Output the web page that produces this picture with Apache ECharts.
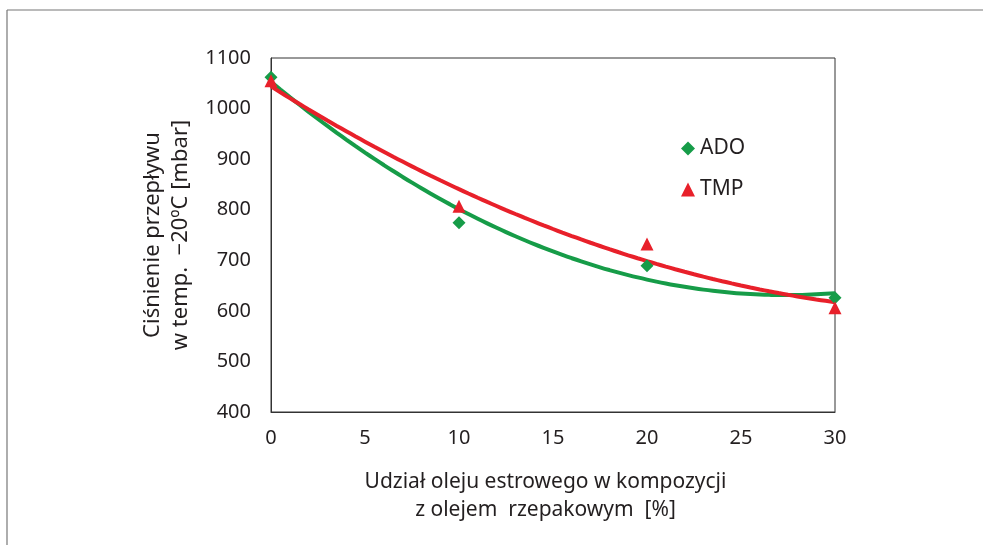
<!DOCTYPE html>
<html>
<head>
<meta charset="utf-8">
<script src="https://cdn.jsdelivr.net/npm/echarts@6/dist/echarts.min.js"></script>
<style>
  html, body { margin: 0; padding: 0; background: #fff; }
  #chart { width: 983px; height: 545px; }
</style>
</head>
<body>
<div id="chart"></div>
<script>
// Ester oil share in the blend with rapeseed oil [%]
const shares = [0, 10, 20, 30];
// Flow pressure at -20 °C [mbar]
const ado = [1062, 774, 689, 626];
const tmp = [1055, 807, 732, 606];
const yTicks = { min: 400, max: 1100, step: 100 };
const xTicks = { min: 0, max: 30, step: 5 };

const GREEN = '#169c48';
const RED = '#e8202a';
const INK = '#231f20';
const FONT = '"Noto Sans", "Open Sans", sans-serif';

// Second-order least-squares trend through the measured points
function quadFit(xs, ys) {
  let s = [0, 0, 0, 0, 0], t = [0, 0, 0];
  xs.forEach((x, i) => {
    for (let k = 0; k < 5; k++) s[k] += Math.pow(x, k);
    for (let k = 0; k < 3; k++) t[k] += ys[i] * Math.pow(x, k);
  });
  const M = [[s[0], s[1], s[2], t[0]], [s[1], s[2], s[3], t[1]], [s[2], s[3], s[4], t[2]]];
  for (let i = 0; i < 3; i++) {
    for (let j = i + 1; j < 3; j++) {
      const f = M[j][i] / M[i][i];
      for (let k = i; k < 4; k++) M[j][k] -= f * M[i][k];
    }
  }
  const c = [0, 0, 0];
  for (let i = 2; i >= 0; i--) {
    let v = M[i][3];
    for (let k = i + 1; k < 3; k++) v -= M[i][k] * c[k];
    c[i] = v / M[i][i];
  }
  return x => c[0] + c[1] * x + c[2] * x * x;
}
function trend(ys) {
  const f = quadFit(shares, ys);
  const pts = [];
  for (let x = shares[0]; x <= shares[shares.length - 1] + 1e-9; x += 0.5) pts.push([x, f(x)]);
  return pts;
}

const chart = echarts.init(document.getElementById('chart'), null, { renderer: 'canvas' });
chart.setOption({
  backgroundColor: '#fff',
  animation: false,
  textStyle: { fontFamily: FONT },
  grid: {
    left: 271, right: 148, top: 58, bottom: 133,
    show: true, borderColor: '#333', borderWidth: 1, backgroundColor: 'transparent'
  },
  legend: {
    orient: 'vertical',
    left: 676, top: 133,
    itemGap: 20,
    itemWidth: 14, itemHeight: 14,
    textStyle: { fontSize: 21, color: INK, fontFamily: FONT },
    data: [
      { name: 'ADO', icon: 'diamond', itemStyle: { color: GREEN, opacity: 1 } },
      { name: 'TMP', icon: 'triangle', itemStyle: { color: RED, opacity: 1 } }
    ]
  },
  xAxis: {
    type: 'value',
    min: xTicks.min, max: xTicks.max, interval: xTicks.step,
    axisLine: { show: true, lineStyle: { color: '#333', width: 1 } },
    axisTick: { show: false },
    splitLine: { show: false },
    axisLabel: { fontSize: 20, color: INK, margin: 16, fontFamily: FONT },
    name: 'Udział oleju estrowego w kompozycji\nz olejem  rzepakowym  [%]',
    nameLocation: 'middle',
    nameGap: 56,
    nameTextStyle: { fontSize: 21, color: INK, lineHeight: 28, fontFamily: FONT, padding: [0, 15, 0, 0] }
  },
  yAxis: {
    type: 'value',
    min: yTicks.min, max: yTicks.max, interval: yTicks.step,
    axisLine: { show: true, lineStyle: { color: '#333', width: 1 } },
    axisTick: { show: false },
    splitLine: { show: false },
    axisLabel: { fontSize: 20, color: INK, margin: 20, fontFamily: FONT, formatter: v => String(v) },
    name: 'Ciśnienie przepływu\nw temp.  −20ºC [mbar]',
    nameLocation: 'middle',
    nameGap: 74,
    nameTextStyle: { fontSize: 22, color: INK, lineHeight: 28, fontFamily: FONT }
  },
  graphic: [
    { type: 'line', silent: true, shape: { x1: 7, y1: 10, x2: 983, y2: 10 }, style: { stroke: '#777', lineWidth: 1.2 } },
    { type: 'line', silent: true, shape: { x1: 7, y1: 10, x2: 7, y2: 545 }, style: { stroke: '#777', lineWidth: 1.2 } }
  ],
  series: [
    {
      name: 'ADO trend', type: 'line', data: trend(ado), showSymbol: false, smooth: true,
      lineStyle: { color: GREEN, width: 4 }, z: 2, silent: true
    },
    {
      name: 'TMP trend', type: 'line', data: trend(tmp), showSymbol: false, smooth: true,
      lineStyle: { color: RED, width: 4 }, z: 3, silent: true
    },
    {
      name: 'ADO', type: 'scatter', data: shares.map((x, i) => [x, ado[i]]),
      symbol: 'diamond', symbolSize: 13, itemStyle: { color: GREEN, opacity: 1 }, z: 4
    },
    {
      name: 'TMP', type: 'scatter', data: shares.map((x, i) => [x, tmp[i]]),
      symbol: 'triangle', symbolSize: 13, itemStyle: { color: RED, opacity: 1 }, z: 5
    }
  ]
});
</script>
</body>
</html>
